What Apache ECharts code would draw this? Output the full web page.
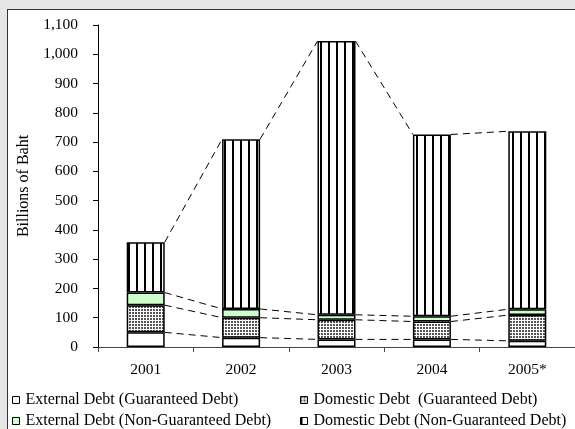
<!DOCTYPE html>
<html>
<head>
<meta charset="utf-8">
<script src="https://cdn.jsdelivr.net/npm/echarts@6/dist/echarts.min.js"></script>
<style>
  html, body { margin: 0; padding: 0; width: 575px; height: 429px; overflow: hidden; background: #e6e6e6; }
  #panel { position: absolute; left: 7px; top: 9px; width: 700px; height: 600px; background: #fff; border-left: 1.5px solid #333; border-top: 1.5px solid #333; }
  #chart { position: absolute; left: 0; top: 0; width: 575px; height: 429px; }
</style>
</head>
<body>
<div id="panel"></div>
<div id="chart"></div>
<script>
// ---- Data (billions of Baht) ----
const categories = ['2001', '2002', '2003', '2004', '2005*'];
const externalGuaranteed = [50, 32, 26, 26, 21];
const domesticGuaranteed = [93, 68, 67, 61, 88];
const externalNonGuaranteed = [43, 30, 17, 18, 20];
const domesticNonGuaranteed = [172, 580, 935, 621, 608];
const seriesNames = [
  'External Debt (Guaranteed Debt)',
  'Domestic Debt  (Guaranteed Debt)',
  'External Debt (Non-Guaranteed Debt)',
  'Domestic Debt (Non-Guaranteed Debt)'
];
const yTicks = [0, 100, 200, 300, 400, 500, 600, 700, 800, 900, 1000, 1100];

// ---- Patterns ----
function makeStripes() {
  const c = document.createElement('canvas');
  c.width = 8; c.height = 8;
  const g = c.getContext('2d');
  g.fillStyle = '#fff'; g.fillRect(0, 0, 8, 8);
  g.fillStyle = '#000'; g.fillRect(0, 0, 2, 8);
  return c;
}
function makeDots() {
  const c = document.createElement('canvas');
  c.width = 3; c.height = 3;
  const g = c.getContext('2d');
  g.fillStyle = '#fff'; g.fillRect(0, 0, 3, 3);
  g.fillStyle = '#555'; g.fillRect(0, 0, 2, 2);
  return c;
}
const stripePattern = { image: makeStripes(), repeat: 'repeat' };
const dotPattern = { image: makeDots(), repeat: 'repeat' };

const seriesValues = [externalGuaranteed, domesticGuaranteed, externalNonGuaranteed, domesticNonGuaranteed];
const fills = ['#ffffff', dotPattern, '#ccffcc', stripePattern];

// cumulative levels for connector lines
const levels = [];
let acc = categories.map(() => 0);
seriesValues.forEach(vals => {
  acc = acc.map((a, i) => a + vals[i]);
  levels.push(acc.slice());
});
const connectorData = [];
levels.forEach(lv => {
  for (let i = 0; i < categories.length - 1; i++) {
    connectorData.push([i, lv[i], lv[i + 1]]);
  }
});

const BAR_WIDTH = 38;
const FONT = 'Liberation Serif';

const chart = echarts.init(document.getElementById('chart'), null, { renderer: 'canvas' });

const barSeries = seriesNames.map((name, k) => ({
  name: name,
  type: 'bar',
  stack: 'debt',
  barWidth: BAR_WIDTH,
  data: seriesValues[k],
  itemStyle: { color: fills[k], borderColor: '#000', borderWidth: 1.5 },
  emphasis: { disabled: true },
  z: 3
}));

const connectorSeries = {
  type: 'custom',
  name: 'connectors',
  data: connectorData,
  silent: true,
  z: 2,
  renderItem: function (params, api) {
    const i = api.value(0);
    const p1 = api.coord([i, api.value(1)]);
    const p2 = api.coord([i + 1, api.value(2)]);
    return {
      type: 'line',
      shape: { x1: p1[0] + BAR_WIDTH / 2, y1: p1[1], x2: p2[0] - BAR_WIDTH / 2, y2: p2[1] },
      style: { stroke: '#000', lineWidth: 1, lineDash: [7, 5], fill: null }
    };
  }
};

function legendAt(name, left, top) {
  return {
    data: [name],
    left: left,
    top: top,
    icon: 'rect',
    itemWidth: 7,
    itemHeight: 7,
    itemGap: 0,
    padding: 0,
    selectedMode: false,
    itemStyle: { borderColor: '#000', borderWidth: 1 },
    textStyle: { fontFamily: FONT, fontSize: 16, color: '#000', padding: [0, 0, 0, 1] }
  };
}

chart.setOption({
  backgroundColor: 'transparent',
  animation: false,
  textStyle: { fontFamily: FONT },
  grid: { left: 98, top: 25, width: 479, height: 322, containLabel: false },
  legend: [
    legendAt(seriesNames[0], 12, 392),
    legendAt(seriesNames[1], 300, 392),
    legendAt(seriesNames[2], 12, 413),
    legendAt(seriesNames[3], 300, 413)
  ],
  xAxis: {
    type: 'category',
    data: categories,
    boundaryGap: true,
    axisLine: { lineStyle: { color: '#444', width: 1 } },
    axisTick: { show: true, length: 5, alignWithLabel: false, lineStyle: { color: '#444' } },
    axisLabel: { fontFamily: FONT, fontSize: 15.5, color: '#000', margin: 15 },
    splitLine: { show: false }
  },
  yAxis: {
    type: 'value',
    min: yTicks[0],
    max: yTicks[yTicks.length - 1],
    interval: 100,
    name: 'Billions of Baht',
    nameLocation: 'middle',
    nameGap: 66,
    nameTextStyle: { fontFamily: FONT, fontSize: 16, color: '#000' },
    axisLine: { show: true, lineStyle: { color: '#000', width: 1 } },
    axisTick: { show: true, length: 5, lineStyle: { color: '#000' } },
    axisLabel: {
      fontFamily: FONT, fontSize: 15.5, color: '#000', margin: 20,
      formatter: v => v.toLocaleString('en-US')
    },
    splitLine: { show: false }
  },
  series: [connectorSeries].concat(barSeries)
});
</script>
</body>
</html>
